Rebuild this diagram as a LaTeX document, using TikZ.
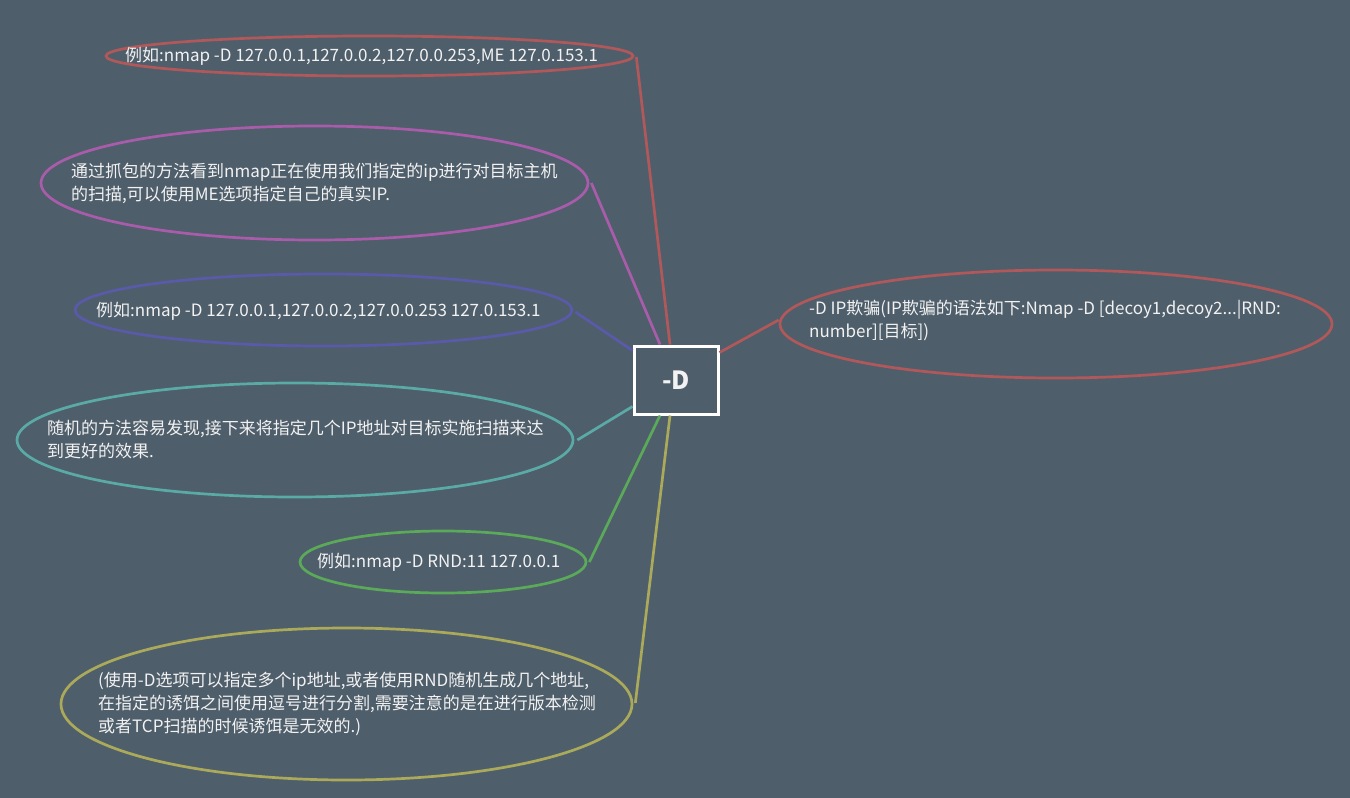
\documentclass[tikz,border=0pt]{standalone}
\usepackage{fontspec}
\setmainfont{Noto Sans CJK SC}
\usetikzlibrary{shapes.geometric,calc}
\definecolor{bg}{HTML}{4F5E6B}
\definecolor{cred}{HTML}{B0585A}
\definecolor{cpurple}{HTML}{A85CAA}
\definecolor{cblue}{HTML}{5A5AAA}
\definecolor{cteal}{HTML}{5AAAA6}
\definecolor{cgreen}{HTML}{5AAA5A}
\definecolor{colive}{HTML}{AAAA5A}
\definecolor{txt}{HTML}{F2F2F2}
\begin{document}
\begin{tikzpicture}[x=1pt,y=-1pt,
  oval/.style={ellipse,draw,line width=2.7pt,inner sep=0pt},
  lbl/.style={anchor=west,text=txt,align=left,inner sep=0pt,font=\fontsize{17}{23}\selectfont},
  conn/.style={line width=2.7pt}]
\useasboundingbox[fill=bg] (0,0) rectangle (1350,798);
% center box
\node[draw=white,line width=3pt,minimum width=84pt,minimum height=68pt,inner sep=0pt,text=txt,font=\bfseries\fontsize{25}{30}\selectfont] (box) at (676,380) {-D};
% ellipses
\node[oval,draw=cred,minimum width=527pt,minimum height=40pt] (e1) at (369.5,56) {};
\node[oval,draw=cpurple,minimum width=547pt,minimum height=114pt] (e2) at (314.5,183) {};
\node[oval,draw=cblue,minimum width=497pt,minimum height=72pt] (e3) at (323.5,310) {};
\node[oval,draw=cteal,minimum width=556pt,minimum height=114pt] (e4) at (295,440) {};
\node[oval,draw=cgreen,minimum width=286pt,minimum height=62pt] (e5) at (443,562) {};
\node[oval,draw=colive,minimum width=571pt,minimum height=152pt] (e6) at (346.5,704) {};
\node[oval,draw=cred,minimum width=552pt,minimum height=108pt] (e7) at (1056,324) {};
% labels
\node[lbl] (t1) at (125,56) {例如:nmap -D 127.0.0.1,127.0.0.2,127.0.0.253,ME 127.0.153.1};
\node[lbl] (t2) at (71,183.5) {通过抓包的方法看到nmap正在使用我们指定的ip进行对目标主机\\的扫描,可以使用ME选项指定自己的真实IP.};
\node[lbl] (t3) at (96,311) {例如:nmap -D 127.0.0.1,127.0.0.2,127.0.0.253 127.0.153.1};
\node[lbl] (t4) at (47,440) {随机的方法容易发现,接下来将指定几个IP地址对目标实施扫描来达\\到更好的效果.};
\node[lbl] (t5) at (317,562) {例如:nmap -D RND:11 127.0.0.1};
\node[lbl] (t6) at (98,704) {(使用-D选项可以指定多个ip地址,或者使用RND随机生成几个地址,\\在指定的诱饵之间使用逗号进行分割,需要注意的是在进行版本检测\\或者TCP扫描的时候诱饵是无效的.)};
\node[lbl] (t7) at (809,320) {-D IP欺骗(IP欺骗的语法如下:Nmap -D [decoy1,decoy2...|RND:\\number][目标])};
% connectors
\draw[conn,cred] ($(e1.east)+(2,1)$) -- ($(box.north)+(-6,0)$);
\draw[conn,cpurple] ($(e2.east)+(2,0)$) -- ($(box.north)+(-16,0)$);
\draw[conn,cblue] ($(e3.east)+(2,2)$) -- ($(box.north west)+(0,6)$);
\draw[conn,cteal] ($(e4.east)+(3,0)$) -- ($(box.south west)+(0,-9)$);
\draw[conn,cgreen] ($(e5.east)+(2,0)$) -- ($(box.south)+(-16,0)$);
\draw[conn,colive] ($(e6.east)+(2,-1)$) -- ($(box.south)+(-6,0)$);
\draw[conn,cred] ($(box.north east)+(0,8)$) -- ($(e7.west)+(0,-4)$);
\end{tikzpicture}
\end{document}
